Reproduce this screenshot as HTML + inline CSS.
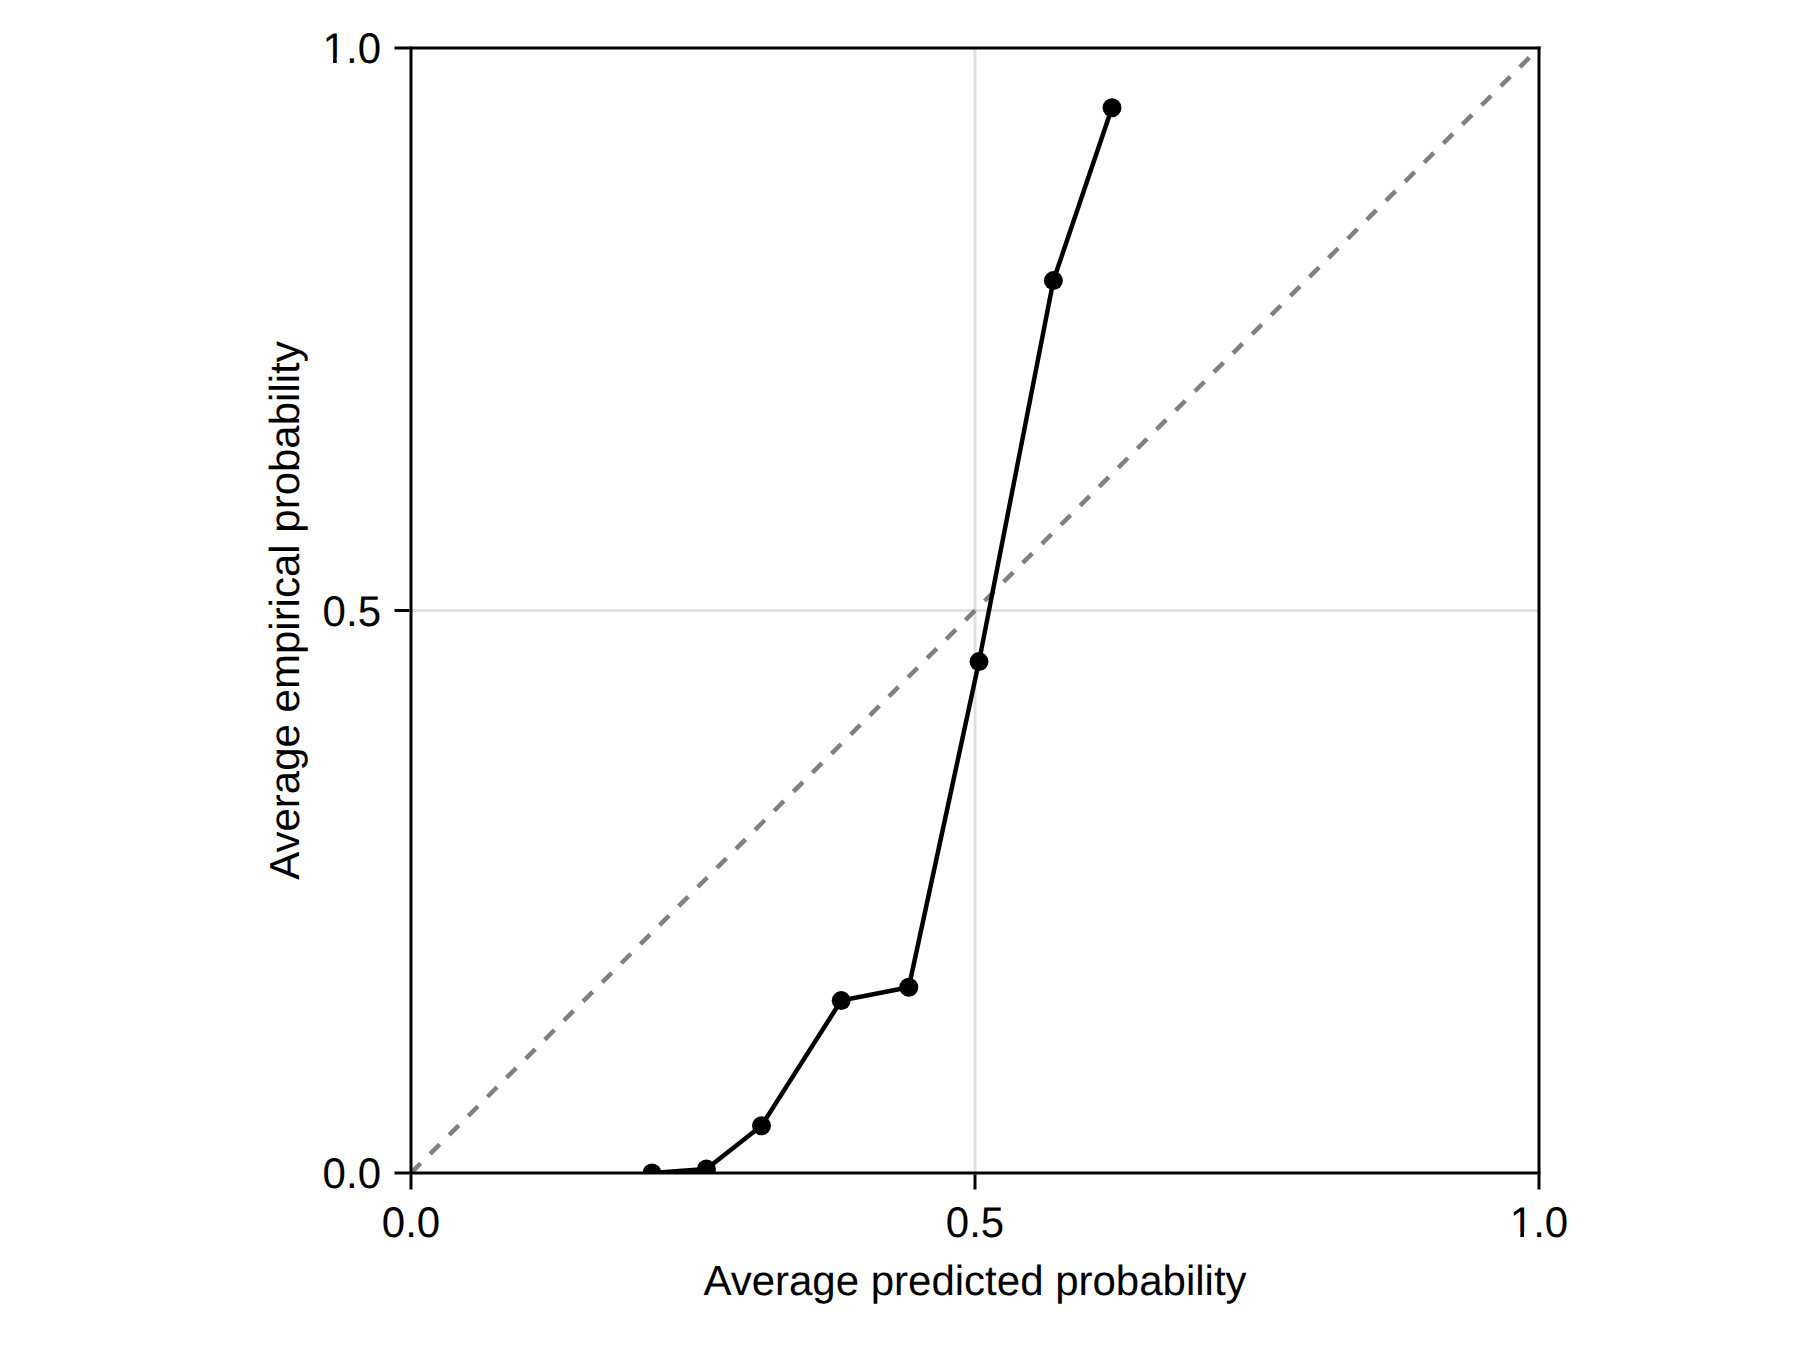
<!DOCTYPE html>
<html>
<head>
<meta charset="utf-8">
<title>Calibration plot</title>
<style>
  html, body { margin: 0; padding: 0; background: #ffffff; }
  body { width: 1800px; height: 1350px; overflow: hidden; }
  svg { display: block; }
  text { font-family: "Liberation Sans", sans-serif; font-size: 42px; fill: #000000; text-rendering: geometricPrecision; }
</style>
</head>
<body>
<svg width="1800" height="1350" viewBox="0 0 1800 1350">
  <defs>
    <clipPath id="axclip"><rect x="411" y="48" width="1128" height="1125"/></clipPath>
  </defs>
  <rect x="0" y="0" width="1800" height="1350" fill="#ffffff"/>

  <!-- grid lines -->
  <g stroke="#000000" stroke-opacity="0.12" stroke-width="3" fill="none">
    <line x1="975" y1="48" x2="975" y2="1173"/>
    <line x1="411" y1="610.5" x2="1539" y2="610.5"/>
  </g>

  <!-- plot content, clipped to the axis area -->
  <g clip-path="url(#axclip)">
    <line x1="411" y1="1173" x2="1539" y2="48" stroke="#808080" stroke-width="4.5" stroke-dasharray="13.5 13.5" fill="none"/>
    <polyline points="652,1173 706.4,1169 761.5,1125.7 841.2,1000.6 908.8,987.3 979,661.6 1053.4,280.6 1112,107.7"
              fill="none" stroke="#000000" stroke-width="4.5" stroke-linejoin="miter" stroke-linecap="butt"/>
    <g fill="#000000">
      <circle cx="652" cy="1173" r="9.5"/>
      <circle cx="706.4" cy="1169" r="9.5"/>
      <circle cx="761.5" cy="1125.7" r="9.5"/>
      <circle cx="841.2" cy="1000.6" r="9.5"/>
      <circle cx="908.8" cy="987.3" r="9.5"/>
      <circle cx="979" cy="661.6" r="9.5"/>
      <circle cx="1053.4" cy="280.6" r="9.5"/>
      <circle cx="1112" cy="107.7" r="9.5"/>
    </g>
  </g>

  <!-- ticks -->
  <g stroke="#000000" stroke-width="3" fill="none">
    <line x1="411" y1="1174.5" x2="411" y2="1189.5"/>
    <line x1="975" y1="1174.5" x2="975" y2="1189.5"/>
    <line x1="1539" y1="1174.5" x2="1539" y2="1189.5"/>
    <line x1="394.5" y1="1173" x2="409.5" y2="1173"/>
    <line x1="394.5" y1="610.5" x2="409.5" y2="610.5"/>
    <line x1="394.5" y1="48" x2="409.5" y2="48"/>
  </g>

  <!-- spines -->
  <g stroke="#000000" stroke-width="3" fill="none">
    <line x1="409.5" y1="1173" x2="1540.5" y2="1173"/>
    <line x1="409.5" y1="48" x2="1540.5" y2="48"/>
    <line x1="411" y1="46.5" x2="411" y2="1174.5"/>
    <line x1="1539" y1="46.5" x2="1539" y2="1174.5"/>
  </g>

  <!-- x tick labels -->
  <g text-anchor="middle">
    <text transform="translate(411,1237) scale(1,1.02)">0.0</text>
    <text transform="translate(975,1237) scale(1,1.02)">0.5</text>
    <text transform="translate(1539,1237) scale(1,1.02)">1.0</text>
  </g>
  <!-- y tick labels -->
  <g text-anchor="end">
    <text transform="translate(381,1188.4) scale(1,1.02)">0.0</text>
    <text transform="translate(381,626) scale(1,1.02)">0.5</text>
    <text transform="translate(381,63.2) scale(1,1.02)">1.0</text>
  </g>

  <!-- Helvetica's "1" has no foot serif: hide Liberation Sans' foot on both sides of the stem -->
  <g fill="#ffffff">
    <rect x="322" y="57.5" width="11.07" height="7"/>
    <rect x="336.75" y="57.5" width="10" height="7"/>
    <rect x="1509" y="1231.5" width="11.33" height="7"/>
    <rect x="1524" y="1231.5" width="10" height="7"/>
  </g>

  <!-- axis labels -->
  <text x="975" y="1295" text-anchor="middle">Average predicted probability</text>
  <text transform="translate(298.5,610.5) rotate(-90)" text-anchor="middle">Average empirical probability</text>
</svg>
</body>
</html>
